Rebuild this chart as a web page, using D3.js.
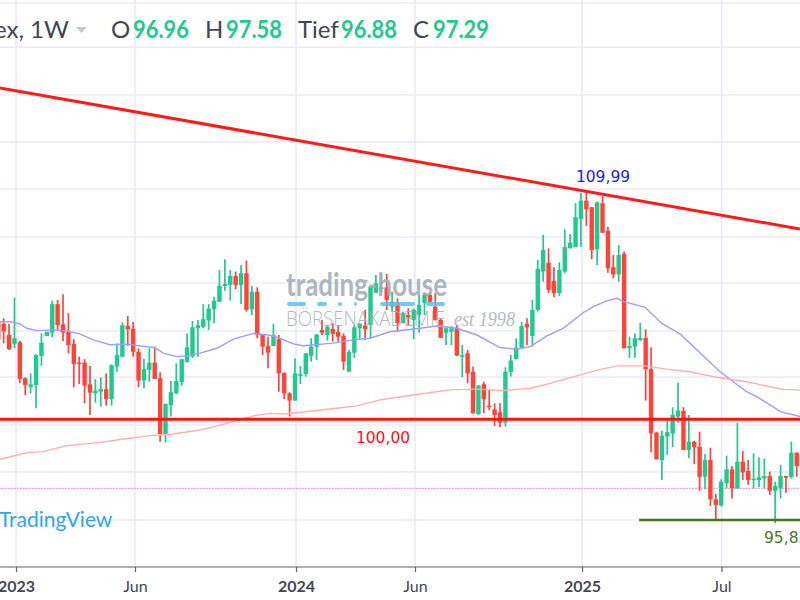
<!DOCTYPE html>
<html>
<head>
<meta charset="utf-8">
<script src="https://cdn.jsdelivr.net/npm/d3@7"></script>
<style>
  html, body { margin: 0; background: #fff; overflow: hidden; }
  svg { display: block; }
</style>
</head>
<body>
<div id="chart"></div>
<script>
// weekly candles, first entry is week -1 (cut off by the left edge)
const firstWeek = -1
const highs = [
  104.77,104.50,104.26,105.39,103.52,101.96,102.13,102.95,103.85,103.92,105.26,
  105.29,105.53,104.72,103.60,102.85,102.74,102.45,101.88,101.96,102.13,
  102.52,103.42,104.33,104.60,104.34,103.21,102.75,103.21,103.28,102.18,
  100.84,101.80,102.56,102.74,103.85,104.38,104.43,105.11,105.11,105.43,
  106.58,107.04,106.58,106.51,106.79,106.98,105.89,105.83,103.78,103.71,
  104.26,103.78,102.16,101.32,102.78,102.45,102.99,103.64,103.83,104.43,
  104.21,104.29,104.21,103.85,103.14,104.21,104.29,104.86,105.86,106.36,
  106.41,106.41,105.64,105.36,104.79,104.93,104.93,105.50,105.58,105.58,
  105.58,104.50,104.14,104.17,104.21,103.35,103.14,102.42,101.63,101.77,
  101.42,100.84,100.84,102.39,102.92,103.64,104.35,104.50,105.29,107.01,
  108.09,107.51,106.70,106.91,108.33,108.13,109.45,109.90,109.99,109.28,
  109.52,109.76,108.44,107.22,107.65,107.37,103.71,103.85,104.31,104.03,
  103.25,99.62,99.66,100.12,100.67,101.73,100.67,100.34,99.22,99.62,
  98.66,98.93,96.94,97.57,98.59,98.14,100.01,98.80,98.40,98.69,
  98.52,98.47,97.90,97.47,98.19,97.71,99.19,98.72
]
const lows = [
  103.05,103.42,103.14,103.21,101.70,101.20,101.27,100.63,102.46,103.74,103.68,
  104.00,103.52,102.99,101.53,101.67,100.84,100.34,100.87,100.70,100.74,
  100.74,102.20,102.82,103.31,102.85,101.53,101.49,101.77,101.89,99.19,
  99.15,100.27,101.24,101.59,102.59,102.80,102.85,104.07,104.00,104.29,
  105.21,105.69,105.26,105.75,105.11,104.79,104.64,103.64,102.92,102.35,
  103.31,101.34,101.02,100.27,100.96,101.67,101.99,102.63,102.71,103.78,
  103.54,103.49,103.49,102.28,102.20,102.80,103.57,103.57,103.64,105.58,
  105.62,104.86,104.79,103.92,104.29,104.21,103.60,103.88,104.64,105.15,
  104.40,103.66,103.35,103.35,102.88,101.96,101.70,100.41,100.34,100.41,
  100.55,99.87,99.81,99.84,101.99,102.74,103.18,103.35,103.28,104.79,
  106.07,105.58,105.40,105.46,106.44,107.51,107.56,107.58,108.47,107.04,
  106.79,108.18,106.46,106.22,106.07,103.21,102.80,102.80,103.52,100.96,
  98.73,98.43,97.54,98.62,98.95,100.01,98.83,98.48,98.22,97.08,
  97.14,96.42,95.85,96.39,97.18,96.75,97.18,97.54,97.33,97.18,
  97.23,97.18,96.90,95.68,96.75,96.99,97.61,97.68
]
const opens = [
  104.34,104.26,103.78,103.40,103.47,101.92,101.55,101.63,102.88,103.74,103.88,
  105.11,104.24,103.92,103.40,102.59,102.59,101.66,101.27,101.34,101.45,
  101.02,102.42,102.85,104.17,104.05,103.06,101.82,102.28,102.59,101.92,
  99.52,100.76,101.27,101.75,102.63,102.85,104.07,104.13,104.40,104.89,
  105.21,105.89,105.93,106.32,105.93,106.44,104.89,105.64,103.78,103.31,
  103.31,103.60,102.16,101.27,100.96,102.02,102.10,102.88,103.28,104.00,
  103.78,104.04,103.91,103.74,102.20,103.02,104.07,104.18,104.21,105.60,
  105.75,105.83,105.00,105.17,104.29,104.64,104.43,104.64,105.15,105.50,
  105.00,104.43,103.88,103.92,104.10,102.85,102.99,102.20,100.38,101.66,
  100.74,100.58,100.46,100.01,102.19,102.74,103.24,104.26,103.74,104.86,
  106.51,106.89,106.11,105.58,106.51,107.51,107.56,108.77,109.56,109.28,
  107.47,109.45,108.26,106.70,106.39,107.27,103.21,103.28,103.57,103.65,
  102.31,99.58,98.40,99.41,99.55,100.27,100.51,98.83,99.19,98.97,
  97.68,98.40,96.71,96.45,97.40,98.00,97.18,98.33,97.93,97.57,
  97.54,97.61,97.71,97.08,97.18,97.71,97.66,98.72
]
const closes = [
  103.57,103.94,103.17,103.64,101.89,101.63,101.66,102.92,103.45,103.92,105.11,
  104.21,103.88,103.35,102.53,102.53,101.60,101.30,101.38,101.45,101.02,
  102.48,102.91,104.20,104.03,103.06,101.82,102.32,102.59,101.89,99.52,
  100.81,101.32,101.80,102.74,103.25,104.11,104.20,104.46,104.92,105.25,
  105.90,105.98,106.32,105.93,106.44,104.86,105.64,103.78,103.28,103.02,
  103.78,102.13,101.27,100.96,102.13,102.10,102.99,103.28,103.80,103.88,
  104.14,103.83,103.71,102.63,103.06,104.11,104.26,104.03,105.86,106.01,
  105.83,105.29,105.21,104.29,104.72,104.54,104.86,105.07,105.50,105.21,
  104.43,103.66,104.07,104.07,102.89,102.92,102.13,100.41,101.60,101.02,
  100.67,100.34,100.01,102.20,102.68,103.24,104.17,104.11,104.86,106.62,
  107.44,105.72,105.58,106.58,107.56,107.75,108.85,109.56,109.19,107.44,
  109.48,108.18,106.65,106.39,107.22,103.21,103.31,103.64,103.66,102.31,
  99.55,98.43,99.45,99.60,100.34,100.53,98.83,99.19,98.95,97.68,
  98.40,96.71,96.47,97.47,98.00,97.18,98.33,97.87,97.54,97.60,
  97.66,97.71,97.08,97.28,97.71,97.64,98.72,98.14
]

const blueAverage = [
  [-0.7,104.35],[1.2,104.35],[3,104.26],[4.3,104.07],[6.1,103.97],[9.2,104],[11.7,103.95],[14.1,103.83],
  [16.6,103.57],[19.7,103.36],[22.8,103.39],[25.3,103.31],[28,103.24],[29.6,103],[32.1,102.85],[33.9,102.88],
  [36.4,103],[39.5,103.21],[42.6,103.6],[46.3,103.85],[49.4,103.77],[51.2,103.64],[53.7,103.4],[55.5,103.32],
  [61.1,103.43],[64.8,103.57],[67.9,103.64],[71.6,103.92],[77.2,104.07],[80.3,104.17],[84,104.07],[87.7,103.78],
  [92,103.24],[95.1,103.17],[97.6,103.28],[100.7,103.74],[103.7,104.07],[107.4,104.74],[109.3,105],[111.8,105.25],
  [113.7,105.36],[114.9,105.22],[118.9,104.97],[122,104.28],[125.4,103.82],[128.5,103.14],[132.8,102.2],
  [137.7,101.34],[139.6,101.13],[144,100.48],[147.6,100.27]
]
const salmonAverage = [
  [-0.7,98.43],[1.2,98.54],[4.3,98.72],[7.3,98.76],[11.7,99.02],[17.9,99.16],[21,99.26],[27.1,99.45],[31.4,99.52],
  [36.4,99.69],[42.6,100.05],[46.3,100.3],[49.4,100.41],[52.1,100.38],[55.5,100.47],[61.7,100.63],[65.4,100.73],
  [69.8,100.99],[75.9,101.2],[82.7,101.42],[87.7,101.45],[92,101.39],[95.7,101.45],[97.6,101.49],[101.3,101.7],
  [106.2,102.02],[110.8,102.31],[113.9,102.45],[118.9,102.45],[122.9,102.31],[127.2,102.2],[132.2,101.96],
  [137.7,101.77],[144.5,101.44],[147.6,101.41]
]

// hand drawn lines
const trendLine = [[-0.7,114.41],[147.6,108.34]]
const resistanceLevel = [[-2,100.15],[150,100.15]]
const supportLevel = [[117.8,95.82],[150,95.82]]
const dottedLevel = [[-2,97.18],[150,97.18]]

const gridPrices = [95.82,97.89,99.91,101.97,103.95,106.02,108,110.06,112.09,114.11,116.17,118.07]
const tickWeeks = [2.29,24.34,54.19,76.24,107.2,133.05]
const tickLabels = ['2023','Jun','2024','Jun','2025','Jul']

const headerItems = [
  { label: 'O', value: '96.96', labelX: 111, valueX: 133 },
  { label: 'H', value: '97.58', labelX: 205, valueX: 226 },
  { label: 'Tief', value: '96.88', labelX: 298, valueX: 341 },
  { label: 'C', value: '97.29', labelX: 413, valueX: 433 },
]

const width = 800
const height = 600
const upColor = '#20c98d'
const downColor = '#ff4339'
const textColor = '#434651'

const x = d3.scaleLinear().domain([0, 147]).range([3.67, 3.67 + 147 * 5.395])
const y = d3.scaleLinear().domain([95.82, 109.99]).range([520, 190.7])

const svg = d3
  .select('#chart')
  .append('svg')
  .attr('width', width)
  .attr('height', height)

const plotBottom = 567

// grid
svg
  .append('g')
  .selectAll('line')
  .data(gridPrices)
  .join('line')
  .attr('x1', 0)
  .attr('x2', width)
  .attr('y1', d => y(d))
  .attr('y2', d => y(d))
  .attr('stroke', '#eeecf9')
  .attr('stroke-width', 1.6)

svg
  .append('g')
  .selectAll('line')
  .data(tickWeeks)
  .join('line')
  .attr('x1', d => x(d))
  .attr('x2', d => x(d))
  .attr('y1', 0)
  .attr('y2', plotBottom)
  .attr('stroke', '#e8e6f7')
  .attr('stroke-width', 1.4)

// axis
const xAxis = d3
  .axisBottom(x)
  .tickValues(tickWeeks)
  .tickFormat((_, index) => tickLabels[index])
  .tickSize(5)
  .tickPadding(9)

const axisGroup = svg
  .append('g')
  .attr('transform', `translate(0, ${plotBottom})`)
  .call(xAxis)

axisGroup.select('.domain').attr('d', `M0,0H${width}`).attr('stroke', '#5d606b').attr('stroke-width', 1.2)
axisGroup.selectAll('.tick line').attr('stroke', '#5d606b').attr('stroke-width', 1.2)
axisGroup
  .selectAll('.tick text')
  .attr('font-family', 'Lato, sans-serif')
  .attr('font-size', 16)
  .attr('fill', textColor)
  .attr('font-weight', (_, index) => (/^\d+$/.test(tickLabels[index]) ? 700 : 400))

// moving averages and dotted level sit behind the candles
const pathLine = d3
  .line()
  .x(d => x(d[0]))
  .y(d => y(d[1]))

svg
  .append('path')
  .attr('d', pathLine(dottedLevel))
  .attr('fill', 'none')
  .attr('stroke', '#f79fcb')
  .attr('stroke-width', 1.2)
  .attr('stroke-dasharray', '2 1')

// candles
const candles = highs.map((high, index) => ({
  week: firstWeek + index,
  high,
  low: lows[index],
  open: opens[index],
  close: closes[index],
}))

const candleGroup = svg.append('g')

candleGroup
  .selectAll('line')
  .data(candles)
  .join('line')
  .attr('x1', d => x(d.week))
  .attr('x2', d => x(d.week))
  .attr('y1', d => y(d.high))
  .attr('y2', d => y(d.low))
  .attr('stroke', d => (d.close >= d.open ? upColor : downColor))
  .attr('stroke-width', 1.7)

candleGroup
  .selectAll('rect')
  .data(candles)
  .join('rect')
  .attr('x', d => x(d.week) - 2.2)
  .attr('width', 4.4)
  .attr('y', d => y(Math.max(d.open, d.close)))
  .attr('height', d => Math.max(1.5, Math.abs(y(d.open) - y(d.close))))
  .attr('fill', d => (d.close >= d.open ? upColor : downColor))

svg
  .append('path')
  .attr('d', pathLine(blueAverage))
  .attr('fill', 'none')
  .attr('stroke', '#9d9ff5')
  .attr('stroke-width', 1.4)

svg
  .append('path')
  .attr('d', pathLine(salmonAverage))
  .attr('fill', 'none')
  .attr('stroke', '#ffb1a9')
  .attr('stroke-width', 1.4)

// drawn lines
svg
  .append('path')
  .attr('d', pathLine(trendLine))
  .attr('fill', 'none')
  .attr('stroke', '#ff1a1a')
  .attr('stroke-width', 3)

svg
  .append('path')
  .attr('d', pathLine(resistanceLevel))
  .attr('fill', 'none')
  .attr('stroke', '#ff1212')
  .attr('stroke-width', 3)

svg
  .append('path')
  .attr('d', pathLine(supportLevel))
  .attr('fill', 'none')
  .attr('stroke', '#3f7a1f')
  .attr('stroke-width', 2.6)

// annotations
function addLabel(text, labelX, labelY, color, anchor) {
  svg
    .append('text')
    .attr('x', labelX)
    .attr('y', labelY)
    .attr('text-anchor', anchor)
    .attr('font-family', '"DejaVu Sans", sans-serif')
    .attr('font-size', 15.5)
    .attr('fill', color)
    .text(text)
}

addLabel('109,99', 603, 182, '#1a1aff', 'middle')
addLabel('100,00', 383, 443, '#ff1212', 'middle')
addLabel('95,82', 764, 543, '#3f7a1f', 'start')

// watermark
const watermark = svg.append('g').attr('opacity', 0.85)

watermark
  .append('text')
  .attr('x', 286)
  .attr('y', 296)
  .attr('font-family', 'Lato, sans-serif')
  .attr('font-weight', 700)
  .attr('font-size', 32)
  .attr('fill', '#9fabb4')
  .attr('textLength', 161)
  .attr('lengthAdjust', 'spacingAndGlyphs')
  .text('trading-house')

watermark
  .selectAll('rect')
  .data([[287, 19], [317, 10], [338, 4], [354, 3], [380, 35], [426, 19]])
  .join('rect')
  .attr('x', d => d[0])
  .attr('y', 302)
  .attr('width', d => d[1])
  .attr('height', 4)
  .attr('rx', 2)
  .attr('fill', '#5cc1f5')

watermark
  .append('text')
  .attr('x', 286)
  .attr('y', 326)
  .attr('font-family', '"Open Sans", sans-serif')
  .attr('font-weight', 300)
  .attr('font-size', 20)
  .attr('fill', '#a4b0b8')
  .attr('textLength', 159)
  .attr('lengthAdjust', 'spacingAndGlyphs')
  .text('BÖRSENAKADEMIE')

watermark
  .append('text')
  .attr('x', 454)
  .attr('y', 326)
  .attr('font-family', '"Liberation Serif", serif')
  .attr('font-style', 'italic')
  .attr('font-size', 22)
  .attr('fill', '#a4b0b8')
  .attr('textLength', 61)
  .attr('lengthAdjust', 'spacingAndGlyphs')
  .text('est 1998')

svg
  .append('text')
  .attr('x', -1)
  .attr('y', 527)
  .attr('font-family', 'Lato, sans-serif')
  .attr('font-size', 21)
  .attr('fill', '#2ea6ee')
  .text('TradingView')

// header
const header = svg
  .append('g')
  .attr('font-family', 'Lato, sans-serif')
  .attr('font-size', 24)

header
  .append('text')
  .attr('x', -6)
  .attr('y', 38)
  .attr('fill', textColor)
  .text('ex, 1W')

header
  .append('path')
  .attr('d', d3.line()([[76, 27], [87, 27], [81.5, 33]]) + 'Z')
  .attr('fill', '#c8c9cd')

headerItems.forEach(item => {
  header
    .append('text')
    .attr('x', item.labelX)
    .attr('y', 38)
    .attr('fill', textColor)
    .text(item.label)

  header
    .append('text')
    .attr('x', item.valueX)
    .attr('y', 38)
    .attr('fill', upColor)
    .attr('font-weight', 700)
    .attr('textLength', 56)
    .attr('lengthAdjust', 'spacingAndGlyphs')
    .text(item.value)
})
</script>
</body>
</html>
